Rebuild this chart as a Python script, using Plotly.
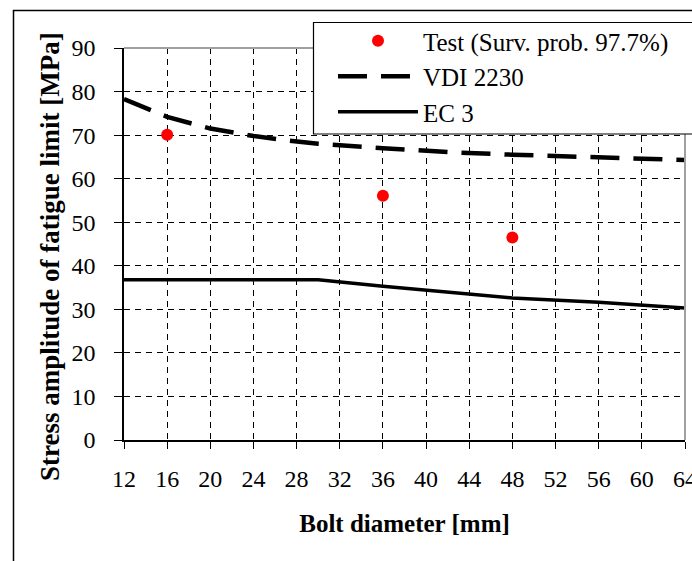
import plotly.graph_objects as go

# Data
bolt_diam = [12, 16, 20, 24, 27, 30, 36, 42, 48, 56, 64]
vdi_2230 = [78.3, 74.2, 71.5, 69.8, 68.8, 68.0, 67.0, 66.1, 65.5, 64.8, 64.3]
ec_3 = [36.8, 36.8, 36.8, 36.8, 36.8, 36.8, 35.3, 33.9, 32.6, 31.6, 30.3]
test_diam = [16, 36, 48]
test_vals = [70.1, 56.1, 46.5]
x_ticks = list(range(12, 65, 4))
y_ticks = list(range(0, 91, 10))

FONT = "Liberation Serif, Times New Roman, serif"

fig = go.Figure()
fig.add_trace(go.Scatter(
    x=test_diam, y=test_vals, mode="markers", name="Test (Surv. prob. 97.7%)",
    marker=dict(color="#ff0000", size=12, symbol="circle"),
))
fig.add_trace(go.Scatter(
    x=bolt_diam, y=vdi_2230, mode="lines", name="VDI 2230",
    line=dict(color="black", width=4.5, dash="29px,14px"),
))
fig.add_trace(go.Scatter(
    x=bolt_diam, y=ec_3, mode="lines", name="EC 3",
    line=dict(color="black", width=3.5),
))

L, R, T, B = 124, 7, 48, 121
W, H = 692, 561
pw, ph = W - L - R, H - T - B

def px_x(p):
    return (p - L) / pw

def px_y(p):
    return (H - B - p) / ph

tickfont = dict(family=FONT, size=24, color="black")

fig.update_layout(
    width=W, height=H,
    margin=dict(l=L, r=R, t=T, b=B, autoexpand=False),
    paper_bgcolor="white", plot_bgcolor="white",
    font=dict(family=FONT, size=24, color="black"),
    showlegend=True,
    legend=dict(
        x=px_x(333), y=px_y(18), xanchor="left", yanchor="top",
        bgcolor="rgba(0,0,0,0)", borderwidth=0,
        font=dict(family=FONT, size=25, color="black"),
        itemwidth=80, tracegroupgap=0,
    ),
    xaxis=dict(
        range=[12, 64], tickvals=x_ticks, ticktext=[str(v) for v in x_ticks],
        tickfont=tickfont, ticklabeloverflow="allow",
        showgrid=True, gridcolor="black", gridwidth=1, griddash="6px,5px",
        showline=True, linecolor="black", linewidth=1.5,
        ticks="outside", ticklen=7, tickcolor="black", tickwidth=1,
        ticklabelstandoff=9, zeroline=False,
        title=dict(text="<b>Bolt diameter [mm]</b>", font=dict(family=FONT, size=25), standoff=24),
    ),
    yaxis=dict(
        range=[0, 90], tickvals=y_ticks, tickfont=tickfont,
        showgrid=True, gridcolor="black", gridwidth=1, griddash="6px,5px",
        showline=True, linecolor="black", linewidth=1.5,
        ticks="outside", ticklen=8, tickcolor="black", tickwidth=1,
        ticklabelstandoff=14, zeroline=False,
    ),
    annotations=[
        dict(text="<b>Stress amplitude of fatigue limit [MPa]</b>", xref="paper", yref="paper",
             x=px_x(50), y=px_y(257), textangle=-90, showarrow=False,
             xanchor="center", yanchor="middle",
             font=dict(family=FONT, size=27, color="black")),
    ],
    shapes=[
        dict(type="line", xref="paper", yref="paper", x0=0, x1=1, y0=1, y1=1,
             line=dict(color="#a0a0a0", width=2)),
        dict(type="line", xref="paper", yref="paper", x0=1, x1=1, y0=0, y1=1,
             line=dict(color="#a0a0a0", width=2)),
        dict(type="rect", xref="paper", yref="paper", x0=px_x(13.5), x1=px_x(720),
             y0=px_y(600), y1=px_y(10.5), line=dict(color="black", width=1.5),
             fillcolor="rgba(0,0,0,0)", layer="below"),
        dict(type="rect", xref="paper", yref="paper", x0=px_x(313.5), x1=px_x(720),
             y0=px_y(134), y1=px_y(22.5), line=dict(color="black", width=1.2),
             fillcolor="white", layer="above"),
    ],
)

fig.write_html("out.html")
